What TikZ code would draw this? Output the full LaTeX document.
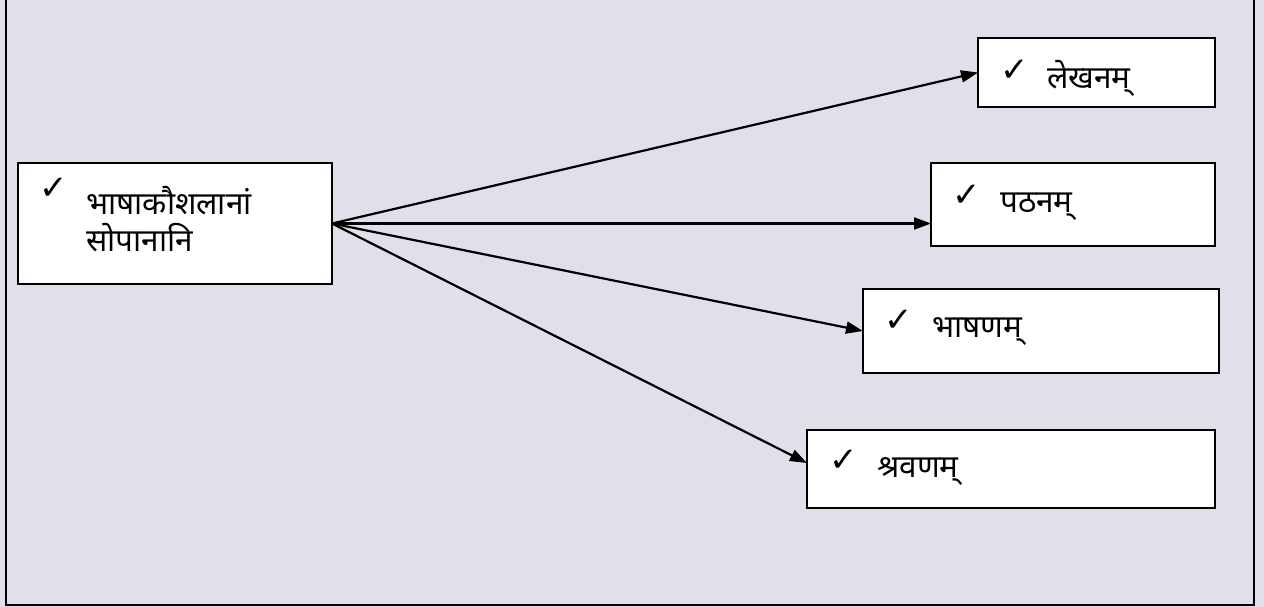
\documentclass[tikz,border=0pt]{standalone}
\usepackage{fontspec}
\newfontfamily\deva[Script=Devanagari]{Noto Sans}
\newfontfamily\sym{DejaVu Sans}
\usetikzlibrary{arrows.meta,calc}
\definecolor{bg}{RGB}{224,224,235}
\begin{document}
\begin{tikzpicture}[x=1pt,y=-1pt,
  box/.style={draw=black,line width=2.4pt,fill=white,anchor=north west,inner sep=0pt,outer sep=0pt},
  lbl/.style={anchor=base west,inner sep=0pt,font=\deva\fontsize{31.5}{40}\selectfont},
  chk/.style={anchor=base west,inner sep=0pt,font=\sym\fontsize{34}{40}\selectfont},
  arr/.style={line width=2.2pt,-{Triangle[length=17pt,width=12pt]}}]
\fill[bg] (0,0) rectangle (1264,607);
\useasboundingbox (0,0) rectangle (1264,607);
\draw[line width=2.6pt] (6,-2) -- (6,605) -- (1254,605) -- (1254,-2);
\node[box,minimum width=314pt,minimum height=121pt] (main) at (18,163) {};
\node[box,minimum width=237pt,minimum height=69pt] (lek) at (978,38) {};
\node[box,minimum width=284pt,minimum height=83pt] (pat) at (931,163) {};
\node[box,minimum width=356pt,minimum height=84pt] (bha) at (863,289) {};
\node[box,minimum width=408pt,minimum height=78pt] (shr) at (807,430) {};
% labels
\node[chk] (c1) at (39,200) {✓};
\node[lbl] (t1) at (86,214) {भाषाकौशलानां};
\node[lbl] (t1b) at (86,251) {सोपानानि};
\node[chk] (c2) at (1000,82) {✓};
\node[lbl] (t2) at (1047,89) {लेखनम्};
\node[chk] (c3) at (952,207) {✓};
\node[lbl] (t3) at (1000,212) {पठनम्};
\node[chk] (c4) at (884,331) {✓};
\node[lbl] (t4) at (932,337) {भाषणम्};
\node[chk] (c5) at (829,471) {✓};
\node[lbl] (t5) at (877,477) {श्रवणम्};
% connectors
\draw[arr] (main.east) -- (lek.west);
\draw[arr] (main.east) -- (main.east -| pat.west);
\draw[arr] (main.east) -- (bha.west);
\draw[arr] (main.east) -- ($(shr.west)+(0,-6)$);
\end{tikzpicture}
\end{document}
